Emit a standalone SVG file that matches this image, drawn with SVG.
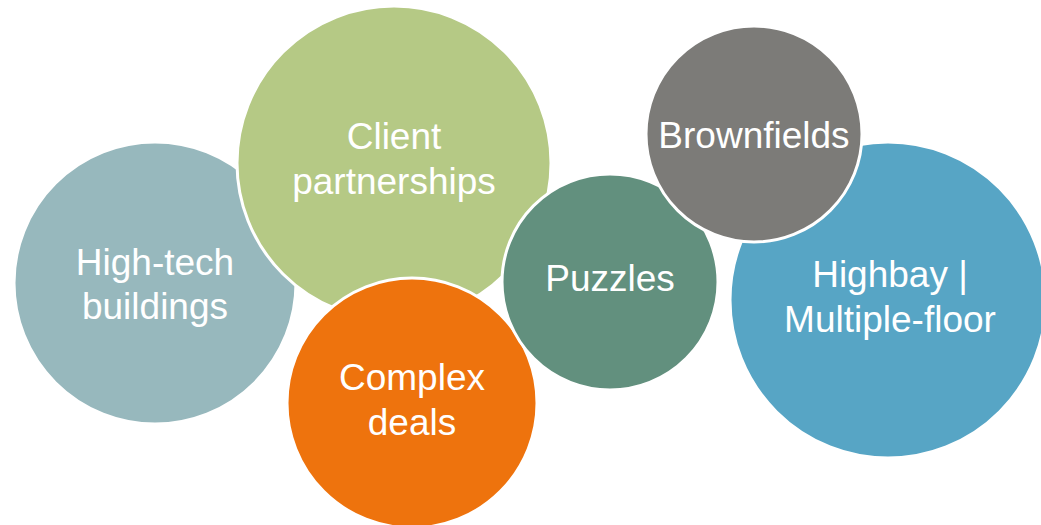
<svg xmlns="http://www.w3.org/2000/svg" width="1041" height="525" viewBox="0 0 1041 525">
<style>
.c{stroke:#fff;stroke-width:3}
.t{font-family:"Liberation Sans",Arial,sans-serif;font-size:37px;fill:#fff;text-anchor:middle}
</style>
<rect width="1041" height="525" fill="#fff"/>
<g id="hightech"><circle class="c" cx="155" cy="283" r="141" fill="#97B8BD"/><text class="t" x="155" y="275">High-tech</text><text class="t" x="155" y="319">buildings</text></g>
<g id="client"><circle class="c" cx="394" cy="163" r="157" fill="#B5C985"/><text class="t" x="394" y="149">Client</text><text class="t" x="394" y="194">partnerships</text></g>
<g id="complex"><circle class="c" cx="412" cy="403" r="125" fill="#EE730D"/><text class="t" x="412" y="390">Complex</text><text class="t" x="412" y="435">deals</text></g>
<g id="puzzles"><circle class="c" cx="610" cy="282" r="108" fill="#62907E"/><text class="t" x="610" y="291">Puzzles</text></g>
<g id="highbay"><circle class="c" cx="888" cy="300" r="158" fill="#57A5C5"/><text class="t" x="890" y="287">Highbay |</text><text class="t" x="890" y="332">Multiple-floor</text></g>
<g id="brownfields"><circle class="c" cx="754" cy="134" r="108" fill="#7C7B78"/><text class="t" x="754" y="148">Brownfields</text></g>
<g id="connectors"/>
</svg>
